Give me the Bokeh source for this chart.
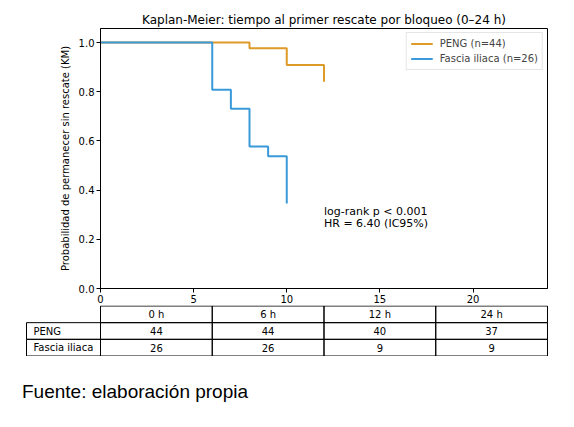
from bokeh.plotting import figure
from bokeh.models import (Range1d, FixedTicker, PrintfTickFormatter, Legend, LegendItem,
                          Label, Div)
from bokeh.embed import file_html
from bokeh.resources import INLINE
from bokeh.core.properties import value

# ---------------- data ----------------
peng_t = [0, 8, 10, 12]
peng_s = [1.0, 0.977, 0.909, 0.841]
fi_t = [0, 6, 7, 8, 9, 10]
fi_s = [1.0, 0.808, 0.731, 0.577, 0.538, 0.346]

peng_label = "PENG (n=44)"
fi_label = "Fascia iliaca (n=26)"

x_ticks = [0, 5, 10, 15, 20]
y_ticks = [0.0, 0.2, 0.4, 0.6, 0.8, 1.0]

risk_times = [0, 6, 12, 24]
risk_headers = ["0 h", "6 h", "12 h", "24 h"]
risk_groups = ["PENG", "Fascia iliaca"]
risk_peng = [44, 44, 40, 37]
risk_fi = [26, 26, 9, 9]

annot_lines = ["log-rank p < 0.001", "HR = 6.40 (IC95%)"]
title_text = "Kaplan-Meier: tiempo al primer rescate por bloqueo (0\u201324 h)"
ylabel_text = "Probabilidad de permanecer sin rescate (KM)"
footer_text = "Fuente: elaboración propia"

ORANGE = "#dd9a27"
BLUE = "#3a9ad9"
FONT = "DejaVu Sans"

# ---------------- KM figure ----------------
W = 566
p = figure(width=W, height=305, output_backend="svg", toolbar_location=None,
           x_range=Range1d(0, 24), y_range=Range1d(0, 1.057),
           min_border_left=100, min_border_right=19, min_border_top=28, min_border_bottom=16,
           title=title_text)
p.title.align = "center"
p.title.text_font = FONT
p.title.text_font_size = "12px"
p.title.text_font_style = "normal"
p.title.text_color = "black"
p.title.standoff = 4
p.outline_line_color = "black"
p.outline_line_width = 1
p.grid.visible = False

for ax in (p.xaxis[0], p.yaxis[0]):
    ax.major_tick_in = 0
    ax.major_tick_out = 4
    ax.minor_tick_line_color = None
    ax.major_label_text_font = FONT
    ax.major_label_text_font_size = "10px"
    ax.major_label_text_color = "black"
    ax.axis_line_color = "black"
    ax.major_tick_line_color = "black"
    ax.major_label_standoff = 2

p.xaxis.ticker = FixedTicker(ticks=x_ticks)
p.yaxis.ticker = FixedTicker(ticks=y_ticks)
p.yaxis.formatter = PrintfTickFormatter(format="%.1f")
p.yaxis.axis_label = ylabel_text
p.yaxis.axis_label_text_font = FONT
p.yaxis.axis_label_text_font_size = "10px"
p.yaxis.axis_label_text_font_style = "normal"
p.yaxis.axis_label_text_color = "black"
p.yaxis.axis_label_standoff = 5

r_peng = p.step(peng_t, peng_s, mode="after", line_color=ORANGE, line_width=2)
r_fi = p.step(fi_t, fi_s, mode="after", line_color=BLUE, line_width=2)

legend = Legend(items=[LegendItem(label=peng_label, renderers=[r_peng]),
                       LegendItem(label=fi_label, renderers=[r_fi])],
                location="top_right")
legend.margin = 4
legend.padding = 4
legend.spacing = 2
legend.glyph_width = 22
legend.glyph_height = 13
legend.label_height = 13
legend.label_standoff = 7
legend.label_text_font = FONT
legend.label_text_font_size = "10px"
legend.border_line_color = "#cccccc"
legend.border_line_width = 1
legend.background_fill_alpha = 0.8
p.add_layout(legend, "center")

for i, txt in enumerate(annot_lines):
    p.add_layout(Label(x=12, y=0.312, y_offset=-12 * i, text=txt, text_font=FONT,
                       text_font_size="11px", text_baseline="middle", text_align="left",
                       text_color="black"))

# ---------------- risk table ----------------
xl = -3.973  # left edge of the label column (data units of the time axis)
t = figure(width=W, height=51, output_backend="svg", toolbar_location=None,
           x_range=Range1d(-4.027, 24.054), y_range=Range1d(-0.03, 3.03),
           min_border_left=25, min_border_right=18, min_border_top=0, min_border_bottom=0,
           x_axis_location=None, y_axis_location=None)
t.outline_line_color = None
t.grid.visible = False

left, right, bottom, top = [], [], [], []
tx, ty, tt = [], [], []
for j in range(len(risk_times)):
    left.append(j * 6); right.append((j + 1) * 6); bottom.append(2); top.append(3)
    tx.append(j * 6 + 3); ty.append(2.5); tt.append(risk_headers[j])
rows = [risk_peng, risk_fi]
for i, (g, vals) in enumerate(zip(risk_groups, rows)):
    yb = 1 - i
    left.append(xl); right.append(0); bottom.append(yb); top.append(yb + 1)
    for j, v in enumerate(vals):
        left.append(j * 6); right.append((j + 1) * 6); bottom.append(yb); top.append(yb + 1)
        tx.append(j * 6 + 3); ty.append(yb + 0.5); tt.append(str(v))

t.quad(left=left, right=right, bottom=bottom, top=top, fill_color=None,
       line_color="black", line_width=1)
t.text(x=tx, y=ty, text=tt, text_align="center", text_baseline="middle",
       text_font=value(FONT), text_font_size="10px", text_color="black")
gy = [1 - i + 0.5 for i in range(len(risk_groups))]
t.text(x=[xl] * len(risk_groups), y=gy, text=risk_groups, x_offset=7,
       text_align="left", text_baseline="middle",
       text_font=value(FONT), text_font_size="10px", text_color="black")

footer = Div(text=footer_text, width=W, height=60,
             styles={"font-family": "Liberation Sans, Arial, sans-serif", "font-size": "19px",
                     "color": "black", "padding-left": "22px", "padding-top": "22px",
                     "margin": "0"})

open("out.html", "w").write(file_html([p, t, footer], INLINE))
